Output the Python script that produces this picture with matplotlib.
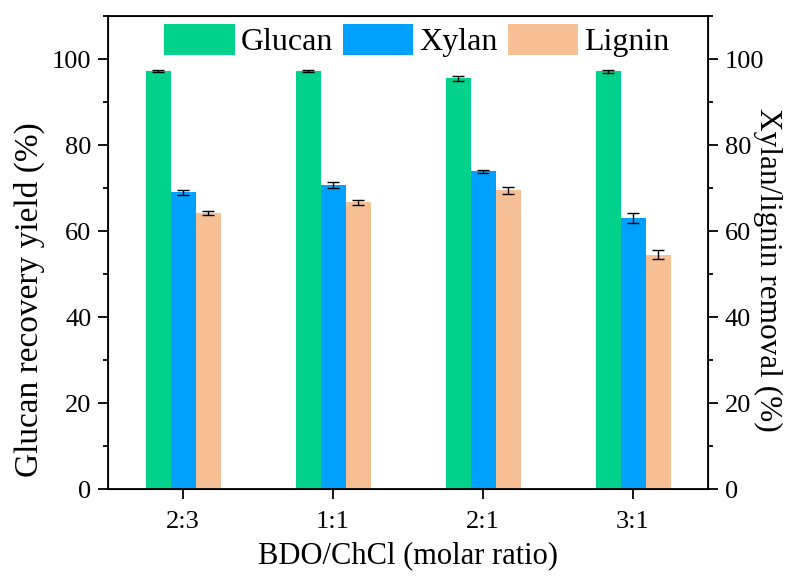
import matplotlib
matplotlib.use("Agg")
import matplotlib.pyplot as plt
import numpy as np
from matplotlib.ticker import MultipleLocator

plt.rcParams['font.family'] = ['Liberation Serif', 'DejaVu Serif']
plt.rcParams['mathtext.fontset'] = 'stix'

categories = ["2:3", "1:1", "2:1", "3:1"]
glucan = [97.2, 97.2, 95.5, 97.1]
glucan_err = [0.3, 0.2, 0.5, 0.4]
xylan = [69.0, 70.7, 73.9, 63.1]
xylan_err = [0.6, 0.7, 0.4, 1.2]
lignin = [64.2, 66.7, 69.5, 54.5]
lignin_err = [0.4, 0.6, 0.8, 1.0]

c_glu = "#00D28C"
c_xyl = "#00A0FF"
c_lig = "#F7BF94"

fig = plt.figure(figsize=(7.9, 5.79), dpi=100)
ax = fig.add_axes([108/790, 1-489/579, 600/790, (489-16)/579])
x = np.arange(len(categories))
w = 1/6
ekw = dict(elinewidth=1.0, capthick=1.0, ecolor='black')
ax.bar(x - w, glucan, w, yerr=glucan_err, color=c_glu, capsize=4, error_kw=ekw, label="Glucan")
ax.bar(x, xylan, w, yerr=xylan_err, color=c_xyl, capsize=4, error_kw=ekw, label="Xylan")
ax.bar(x + w, lignin, w, yerr=lignin_err, color=c_lig, capsize=4, error_kw=ekw, label="Lignin")

ax.set_xlim(-0.5, 3.5)
ax.set_ylim(0, 110)
ax.set_xticks(x)
ax.set_xticklabels(categories)
ax.set_yticks([0, 20, 40, 60, 80, 100])
ax.yaxis.set_minor_locator(MultipleLocator(10))
ax.tick_params(axis='both', labelsize=19, direction='out', width=1.3, length=7.5)
ax.tick_params(axis='y', which='minor', direction='out', width=1.3, length=3.5)
ax.tick_params(axis='y', pad=4.5)
ax.tick_params(axis='x', pad=8)
for s in ax.spines.values():
    s.set_linewidth(1.3)
ax.set_xlabel("BDO/ChCl (molar ratio)", fontsize=22, labelpad=6)
ax.set_ylabel("Glucan recovery yield (%)", fontsize=24)
ax.yaxis.set_label_coords(-0.105, 0.40)

ax2 = ax.twinx()
ax2.set_ylim(0, 110)
ax2.set_yticks([0, 20, 40, 60, 80, 100])
ax2.yaxis.set_minor_locator(MultipleLocator(10))
ax2.tick_params(axis='y', labelsize=19, direction='out', width=1.3, length=7.5, pad=4.5)
ax2.tick_params(axis='y', which='minor', direction='out', width=1.3, length=3.5)
ax2.set_ylabel("Xylan/lignin removal (%)", fontsize=22.5, rotation=270)
ax2.yaxis.set_label_coords(1.123, 0.463)

ax.legend(loc='upper center', bbox_to_anchor=(0.515, 1.017), ncol=3, frameon=False,
          fontsize=23, handlelength=2.2, handleheight=1.1, handletextpad=0.2,
          columnspacing=0.3, borderaxespad=0.1)

fig.savefig("out.png", dpi=100)
